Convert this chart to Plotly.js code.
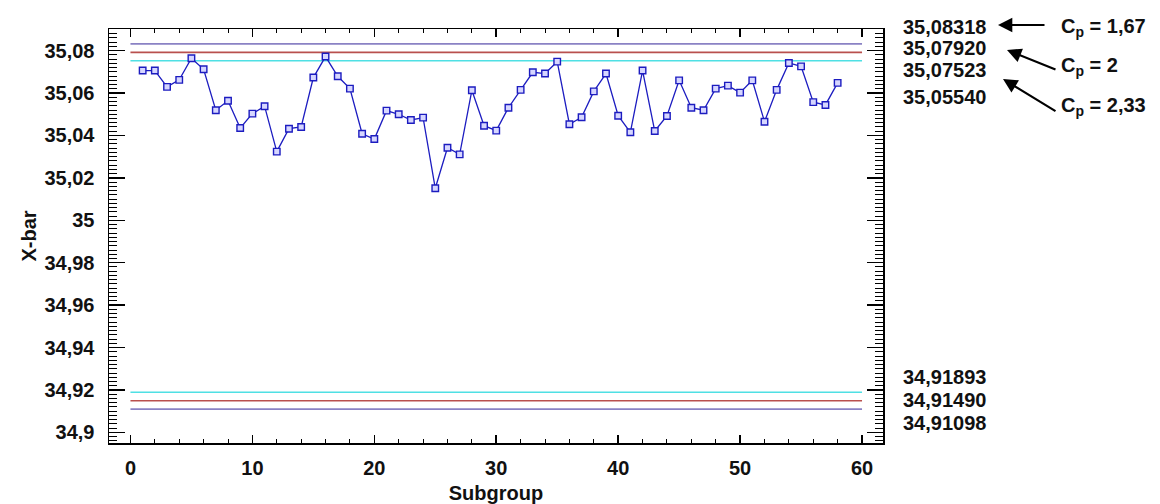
<!DOCTYPE html>
<html>
<head>
<meta charset="utf-8">
<script src="https://cdn.plot.ly/plotly-3.0.1.min.js"></script>
<style>html,body{margin:0;padding:0;background:#fff;}#chart{width:1160px;height:504px;}</style>
</head>
<body>
<div id="chart"></div>
<script>
const subgroups = [1,2,3,4,5,6,7,8,9,10,11,12,13,14,15,16,17,18,19,20,
  21,22,23,24,25,26,27,28,29,30,31,32,33,34,35,36,37,38,39,40,
  41,42,43,44,45,46,47,48,49,50,51,52,53,54,55,56,57,58];
const xbar = [35.0706,35.0706,35.0629,35.0662,35.0764,35.0712,35.0519,35.0564,35.0435,35.0503,
  35.0538,35.0324,35.0432,35.0440,35.0673,35.0772,35.0679,35.0621,35.0408,35.0383,
  35.0517,35.0500,35.0473,35.0484,35.0151,35.0342,35.0311,35.0613,35.0446,35.0423,
  35.0531,35.0615,35.0698,35.0692,35.0748,35.0453,35.0486,35.0608,35.0692,35.0493,
  35.0415,35.0706,35.0421,35.0492,35.0660,35.0531,35.0519,35.0621,35.0635,35.0602,
  35.0660,35.0465,35.0615,35.0742,35.0726,35.0557,35.0544,35.0648];
const limitSpan = [0, 60];
const uclCp167 = 35.08318, lclCp167 = 34.91098;
const uclCp2 = 35.07920, lclCp2 = 34.91490;
const uclCp233 = 35.07523, lclCp233 = 34.91893;
const centerValue = 35.05540;
const upperLabels = ['35,08318','35,07920','35,07523','35,05540'];
const lowerLabels = ['34,91893','34,91490','34,91098'];
const cpLabels = ['C<sub>p</sub> = 1,67','C<sub>p</sub> = 2','C<sub>p</sub> = 2,33'];

const purple = '#8a82c4', red = '#b9504e', cyan = '#4fe0e4', blue = '#1c1cc0';

function hline(v, color){
  return {x: limitSpan, y: [v, v], mode: 'lines', line: {color: color, width: 1.6},
          hoverinfo: 'skip', showlegend: false, type: 'scatter'};
}
const traces = [
  hline(uclCp167, purple), hline(lclCp167, purple),
  hline(uclCp2, red), hline(lclCp2, red),
  hline(uclCp233, cyan), hline(lclCp233, cyan),
  {x: subgroups, y: xbar, mode: 'lines+markers', type: 'scatter', showlegend: false,
   line: {color: blue, width: 1.3},
   marker: {symbol: 'square', size: 6.5, color: '#d6d6ff', line: {color: blue, width: 1.4}}}
];

// plot area in pixels
const L = 109, R = 883, T = 29, B = 443, W = 1160, H = 504;
const px = x => (x - L) / (R - L);
const py = y => (B - y) / (B - T);
const fam = 'Liberation Sans, Arial, sans-serif';
const bold = {family: fam, size: 20, color: '#111', weight: 'bold'};
const annotations = [];
const upperY = [27, 48, 70, 97];
upperLabels.forEach((t, i) => annotations.push({xref: 'paper', yref: 'paper', x: px(944), y: py(upperY[i]),
  text: t, showarrow: false, font: bold, xanchor: 'center', yanchor: 'middle', borderpad: 0}));
const lowerY = [377, 400, 423];
lowerLabels.forEach((t, i) => annotations.push({xref: 'paper', yref: 'paper', x: px(944), y: py(lowerY[i]),
  text: t, showarrow: false, font: bold, xanchor: 'center', yanchor: 'middle', borderpad: 0}));
const cpY = [28, 67, 107];
const cpFont = {family: fam, size: 20, color: '#111', weight: 'bold'};
cpLabels.forEach((t, i) => annotations.push({xref: 'paper', yref: 'paper', x: px(1059), y: py(cpY[i]),
  text: t, showarrow: false, font: cpFont, xanchor: 'left', yanchor: 'middle'}));
const arrows = [[998, 25, 1046, 25], [1007, 50, 1057, 70], [1003, 79, 1057, 112]];
arrows.forEach(a => annotations.push({xref: 'paper', yref: 'paper', x: px(a[0]), y: py(a[1]),
  ax: a[2] - a[0], ay: a[3] - a[1], axref: 'pixel', ayref: 'pixel', text: '', showarrow: true,
  arrowhead: 2, arrowsize: 1.3, arrowwidth: 2.2, arrowcolor: '#000'}));

const tickFont = {family: fam, size: 20, color: '#111', weight: 'bold'};
const layout = {
  width: W, height: H,
  margin: {l: L, r: W - R, t: T, b: H - B, pad: 0},
  paper_bgcolor: '#fff', plot_bgcolor: '#fff',
  separators: ', ',
  showlegend: false,
  xaxis: {
    range: [-1.76, 61.72], dtick: 10, tick0: 0, ticks: 'inside', ticklen: 8, tickwidth: 1.5, tickcolor: '#000',
    minor: {dtick: 2, ticks: 'inside', ticklen: 4, tickwidth: 1, tickcolor: '#000'},
    showline: true, linecolor: '#000', linewidth: 1.5, mirror: 'allticks', showgrid: false, zeroline: false,
    tickfont: tickFont, ticklabelstandoff: 6,
    title: {text: 'Subgroup', font: tickFont, standoff: 8}
  },
  yaxis: {
    range: [34.8950, 35.0902], dtick: 0.02, tick0: 34.9, ticks: 'inside', ticklen: 16, tickwidth: 1.5, tickcolor: '#000',
    minor: {dtick: 0.002, ticks: 'inside', ticklen: 8, tickwidth: 1, tickcolor: '#000'},
    showline: true, linecolor: '#000', linewidth: 1.5, mirror: 'allticks', showgrid: false, zeroline: false,
    tickfont: tickFont, ticklabelstandoff: 9,
    title: {text: 'X-bar', font: tickFont, standoff: 2}
  },
  annotations: annotations
};
Plotly.newPlot('chart', traces, layout, {displayModeBar: false, staticPlot: true});
</script>
</body>
</html>
